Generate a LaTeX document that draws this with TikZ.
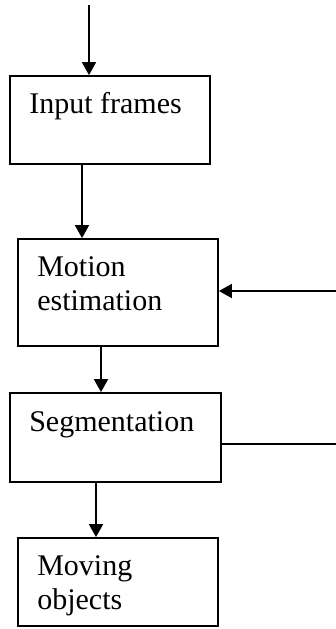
\documentclass[tikz,border=0pt]{standalone}
\usepackage{fontspec}
\setmainfont{Liberation Serif}
\usepackage{xcolor}
\usepackage{tikz}
\usetikzlibrary{arrows.meta, calc, positioning}
\definecolor{lineBlack}{RGB}{0,0,0}

\begin{document}
\begin{tikzpicture}[
    x=1pt, y=1pt,
    % Plain process block, fixed size
    blk/.style={
        rectangle, draw=lineBlack,
        line width=1.8pt,
        minimum width=#1, minimum height=88pt,
        inner sep=0pt
    },
    blk/.default=200pt,
    % Block caption, set from the upper left corner (base = last line)
    blktxt/.style={
        font=\fontsize{30}{34}\selectfont,
        align=left, inner sep=0pt,
        anchor=base west
    },
    arr/.style={-{Triangle[width=14pt,length=13pt]},
                line width=1.8pt, draw=lineBlack},
    ln/.style={line width=1.8pt, draw=lineBlack}
]
\useasboundingbox (0,0) rectangle (336,-629);
% ── BLOCKS ────────────────────────────────────────────────────
\node[blk]                          (in)  at (110,  -120)   {};
\node[blk, minimum height=107pt]    (mot) at (118,  -292.5) {};
\node[blk=211pt, minimum height=89pt] (seg) at (115.5,-437.5) {};
\node[blk]                          (mov) at (118,  -582)   {};
% ── CAPTIONS ──────────────────────────────────────────────────
\node[blktxt] (inT)  at ([shift={(20,-38)}]in.north west)  {Input frames};
\node[blktxt] (motT) at ([shift={(20,-72)}]mot.north west) {Motion\\estimation};
\node[blktxt] (segT) at ([shift={(20,-39)}]seg.north west) {Segmentation};
\node[blktxt] (movT) at ([shift={(20,-72)}]mov.north west) {Moving\\objects};
% ── ARROWS: main column ───────────────────────────────────────
\coordinate (src) at (89,-5);
\draw[arr] (src) -- (src |- in.north);
\draw[arr] ([xshift=-28pt]in.south)  -- ([xshift=-28pt]in.south |- mot.north);
\draw[arr] ([xshift=-17pt]mot.south) -- ([xshift=-17pt]mot.south |- seg.north);
\draw[arr] ([xshift=-19.5pt]seg.south) -- ([xshift=-19.5pt]seg.south |- mov.north);
% ── FEEDBACK: segmentation back to motion estimation ──────────
\coordinate (fbIn)  at (336,-291);
\coordinate (fbOut) at (336,-444);
\draw[arr] (fbIn) -- (fbIn -| mot.east);
\draw[ln]  (fbOut -| seg.east) -- (fbOut);
\end{tikzpicture}
\end{document}
